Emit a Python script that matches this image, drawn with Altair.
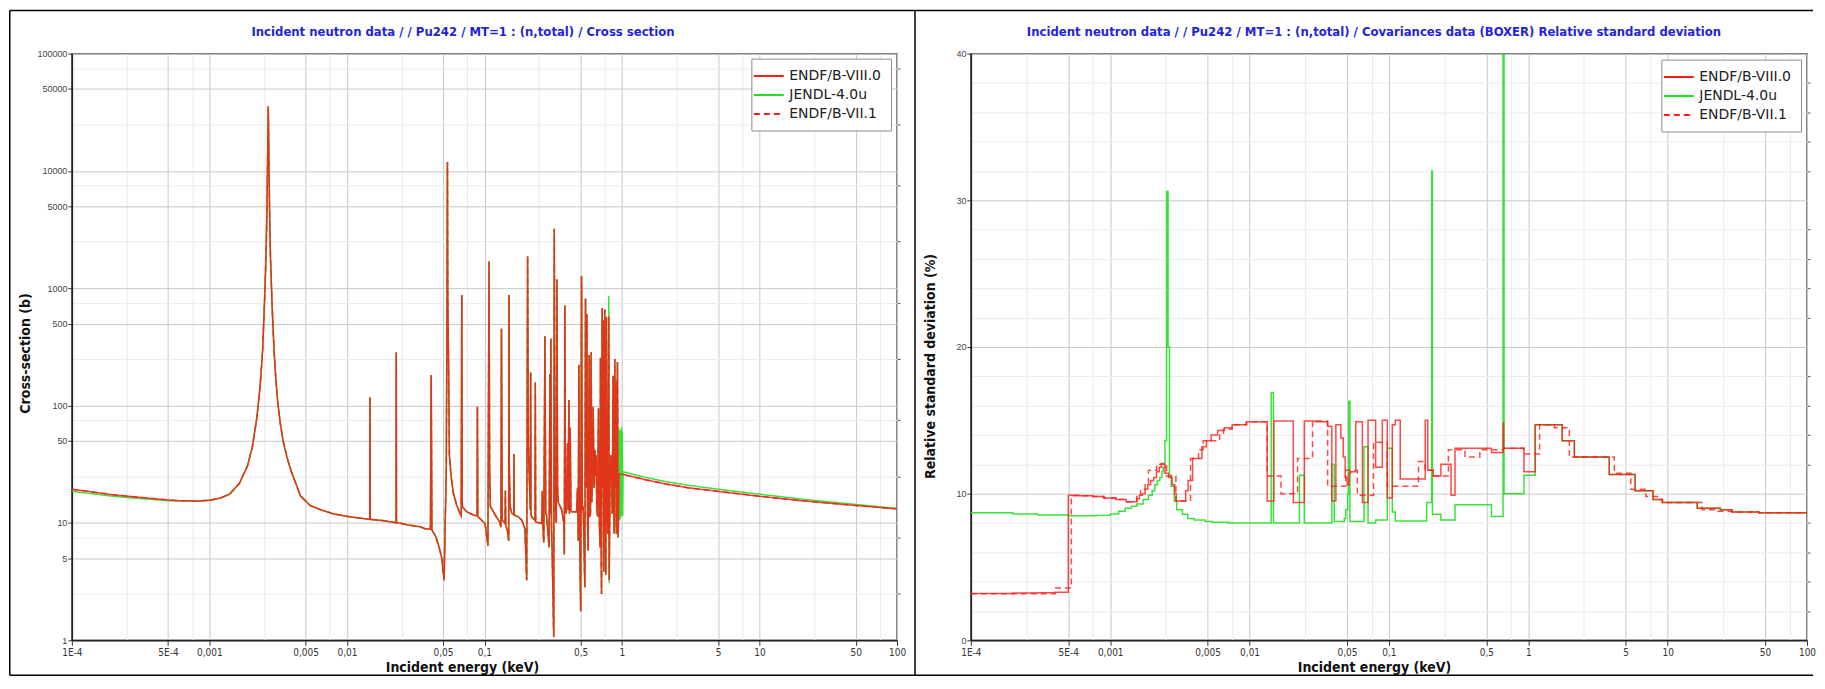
import altair as alt
import pandas as pd

# ------------------------------------------------------------------ texts
SERIES = ["ENDF/B-VIII.0", "JENDL-4.0u", "ENDF/B-VII.1"]
COLORS = ["#ff1a1a", "#22e022", "#ff1a1a"]
DASHES = [[1, 0], [1, 0], [6, 4]]

LEFT_TITLE = "Incident neutron data / / Pu242 / MT=1 : (n,total) / Cross section"
RIGHT_TITLE = ("Incident neutron data / / Pu242 / MT=1 : (n,total) / "
               "Covariances data (BOXER) Relative standard deviation")
X_TITLE = "Incident energy (keV)"
LEFT_Y_TITLE = "Cross-section (b)"
RIGHT_Y_TITLE = "Relative standard deviation (%)"

# ------------------------------------------------------------------ ticks
x_major = [0.0001, 0.0005, 0.001, 0.005, 0.01, 0.05, 0.1, 0.5, 1, 5, 10, 50, 100]
x_major_labels = ["1E-4", "5E-4", "0,001", "0,005", "0,01", "0,05", "0,1", "0,5",
                  "1", "5", "10", "50", "100"]
x_minor = [0.00025, 0.00075, 0.0025, 0.0075, 0.025, 0.075, 0.25, 0.75, 2.5, 7.5, 25, 75]
y_left_major = [1, 5, 10, 50, 100, 500, 1000, 5000, 10000, 50000, 100000]
y_left_minor = [2.5, 7.5, 25, 75, 250, 750, 2500, 7500, 25000, 75000]
y_right_major = [0, 10, 20, 30, 40]
y_right_minor = [2, 4, 6, 8, 12, 14, 16, 18, 22, 24, 26, 28, 32, 34, 36, 38]

# ------------------------------------------------------------------ left panel data (keV, barns)
low_E = [1.0e-4, 1.5e-4, 2.0e-4, 3.0e-4, 4.0e-4, 5.0e-4, 6.0e-4, 8.0e-4, 1.0e-3, 1.2e-3,
         1.4e-3, 1.65e-3, 1.89e-3, 2.05e-3, 2.21e-3, 2.30e-3, 2.37e-3, 2.44e-3, 2.52e-3, 2.58e-3,
         2.62e-3, 2.65e-3, 2.68e-3, 2.71e-3, 2.74e-3, 2.78e-3, 2.86e-3, 2.95e-3, 3.04e-3, 3.14e-3,
         3.28e-3, 3.46e-3, 3.70e-3, 3.96e-3, 4.6e-3, 5.4e-3, 6.4e-3, 8.0e-3, 1.0e-2, 1.40e-2,
         1.465e-2, 1.472e-2, 1.479e-2, 1.80e-2, 2.22e-2, 2.278e-2, 2.285e-2, 2.292e-2, 2.80e-2, 3.40e-2]
low_viii = [19.4, 18.2, 17.4, 16.6, 16.1, 15.7, 15.5, 15.4, 15.6, 16.3,
            17.6, 21.7, 30.5, 44, 78, 120, 180, 300, 800, 1850,
            4500, 12000, 35500, 12000, 4500, 1850, 700, 300, 170, 107,
            70, 48, 35, 27, 17.0, 14.1, 13.0, 11.95, 11.4, 10.8,
            10.75, 118, 10.75, 10.5, 10.1, 10.05, 284, 10.1, 9.6, 9.3]
low_jendl = [18.6, 17.6, 16.9, 16.2, 15.8, 15.5, 15.4, 15.35, 15.6, 16.3,
             17.6, 21.7, 30.5, 44, 78, 120, 180, 300, 800, 1850,
             4500, 12000, 35500, 12000, 4500, 1850, 700, 300, 170, 107,
             70, 48, 35, 27, 17.0, 14.1, 13.0, 11.95, 11.4, 10.8,
             10.75, 118, 10.75, 10.5, 10.1, 10.05, 284, 10.1, 9.6, 9.3]

res_E = [0.0370, 0.0405, 0.0410, 0.0415, 0.0440, 0.0465, 0.0490, 0.0509, 0.0528, 0.0535,
         0.0538, 0.0541, 0.0547, 0.0556, 0.0572, 0.0594, 0.0627, 0.0662, 0.0678, 0.0684,
         0.0690, 0.0740, 0.0830, 0.0884, 0.0889, 0.0894, 0.0950, 0.1010, 0.1060, 0.1080,
         0.1090, 0.1105, 0.1160, 0.1220, 0.1290, 0.1318, 0.1330, 0.1345, 0.1412, 0.1420,
         0.1428, 0.1476, 0.1500, 0.1508, 0.1516, 0.1535, 0.1580, 0.1635, 0.1640, 0.1645,
         0.1760, 0.1865, 0.1970, 0.2028, 0.2060, 0.2085, 0.2108, 0.2155, 0.2167, 0.2178,
         0.2203, 0.2330, 0.2343, 0.2356, 0.2605, 0.2635, 0.2660, 0.2700, 0.2753, 0.2790,
         0.2830, 0.2950, 0.2993, 0.3010, 0.3040, 0.3070, 0.3110, 0.3190, 0.3220, 0.3250,
         0.3290, 0.3330, 0.3365, 0.3400, 0.3440, 0.3640, 0.3780, 0.3810, 0.3846, 0.3880,
         0.3935, 0.4020, 0.4060, 0.4110, 0.4150, 0.4205, 0.4250, 0.4300, 0.4676, 0.4754,
         0.4810, 0.4860, 0.4930, 0.5010, 0.5080, 0.5150, 0.5225, 0.5370, 0.5430, 0.5500,
         0.5560, 0.5620, 0.5680, 0.5780, 0.5840, 0.5900, 0.5970, 0.6030, 0.6110, 0.6180,
         0.6260, 0.6350, 0.6420, 0.6490, 0.6560, 0.6640, 0.6750, 0.6850, 0.6930, 0.6980,
         0.7040, 0.7100, 0.7180, 0.7240, 0.7300, 0.7380, 0.7500, 0.7560, 0.7630, 0.7710,
         0.7800, 0.7890]
res_v = [8.95, 8.85, 182, 8.7, 7.8, 6.4, 5.0, 3.25, 30, 900,
         11900, 900, 290, 38, 25, 18, 14.3, 12.1, 11.5, 877,
         13.8, 12.5, 11.7, 11.5, 98, 11.4, 10.6, 9.9, 6.4, 1700,
         30, 13.8, 12.5, 11.3, 10.2, 9.25, 453, 10.6, 9.9, 18.8,
         9.6, 8.4, 7.07, 877, 30, 13.9, 12.1, 11.9, 38.8, 11.7,
         11.3, 10.6, 8.95, 3.25, 1880, 45, 30, 13, 192, 12,
         11.3, 10.5, 158, 10.2, 9.9, 18.8, 9.5, 6.8, 390, 12,
         11.7, 6.2, 185, 12, 372, 10, 5.4, 1.07, 3220, 40,
         13, 10, 1190, 20, 15, 13, 10, 5.4, 716, 14,
         12, 48, 13, 112, 12, 65, 13, 12.5, 12.5, 20,
         7.07, 223, 8, 1.77, 1270, 13, 13.9, 2.84, 820, 20,
         600, 10, 5.8, 270, 11.3, 12, 285, 15, 30, 98,
         20, 42, 25, 38, 14, 11.3, 95, 10, 6.2, 256,
         10, 2.48, 680, 20, 535, 3.85, 660, 15, 3.6, 570,
         13, 8.1]

viii_tail_E = [0.8020, 0.8070, 0.8180, 0.8300, 0.8390, 0.8500, 0.8620, 0.8700, 0.8770, 0.8870,
               0.8950, 0.9020, 0.9070, 0.9120, 0.9270, 0.9380]
viii_tail_v = [575, 3.25, 20, 38, 30, 12, 180, 14, 8.1, 250,
               20, 163, 10, 8.1, 235, 7.55]
jendl_tail_E = [0.8020, 0.8070, 0.8180, 0.8300, 0.8390, 0.8500, 0.8620, 0.8700, 0.8770, 0.8870,
                0.8950, 0.9020, 0.9070, 0.9120, 0.9270, 0.9380, 0.9450, 0.9500, 0.9560, 0.9620,
                0.9680, 0.9740, 0.9800, 0.9860, 0.9920, 0.9980, 1.0050, 1.0120]
jendl_tail_v = [860, 3.1, 20, 38, 30, 12, 180, 14, 8.1, 250,
                20, 163, 10, 8.1, 235, 7.5, 65, 11, 60, 10.5,
                62, 11, 58, 12, 65, 11.5, 60, 11.5]

viii_high_E = [0.953, 1.2, 1.5, 2.05, 3.0, 5.0, 10.0, 20.0, 50.0, 100.0]
viii_high_v = [26.3, 24.8, 23.3, 21.6, 20.0, 18.6, 16.9, 15.5, 14.1, 13.2]
jendl_high_E = [1.019, 1.2, 1.5, 2.05, 3.0, 5.0, 10.0, 20.0, 50.0, 100.0]
jendl_high_v = [27.3, 26.0, 24.4, 22.6, 21.0, 19.4, 17.6, 16.0, 14.4, 13.3]

# ------------------------------------------------------------------ right panel data (keV, %)
r_viii_E = [1.0e-4, 2.0e-4, 3.0e-4, 4.0e-4, 5.0e-4, 6.0e-4, 7.5e-4, 9.0e-4, 1.1e-3, 1.3e-3,
            1.55e-3, 1.62e-3, 1.70e-3, 1.78e-3, 1.86e-3, 1.95e-3, 2.05e-3, 2.15e-3, 2.25e-3, 2.33e-3,
            2.47e-3, 2.62e-3, 2.78e-3, 2.90e-3, 2.98e-3, 3.48e-3, 3.62e-3, 3.90e-3, 4.55e-3, 4.90e-3,
            5.30e-3, 5.90e-3, 6.60e-3, 7.50e-3, 9.5e-3, 0.01337, 0.01493, 0.0206, 0.0247, 0.0300,
            0.0363, 0.0389, 0.0416, 0.0452, 0.0470, 0.0485, 0.0501, 0.0518, 0.0531, 0.0578,
            0.0645, 0.0708, 0.0803, 0.0896, 0.0973, 0.1057, 0.111, 0.1205, 0.182, 0.190,
            0.208, 0.236, 0.279, 0.298, 0.544, 0.659, 0.665, 0.931, 1.12, 1.75,
            2.14, 3.81, 5.84, 7.86, 9.16, 16.3, 23.9, 29.0, 45.0, 100.0]
r_viii_v = [3.20, 3.22, 3.25, 3.28, 9.9, 9.85, 9.8, 9.7, 9.6, 9.45,
            9.65, 9.9, 10.0, 10.3, 10.6, 10.9, 11.1, 11.5, 11.8, 12.0,
            11.4, 11.1, 10.6, 10.0, 9.5, 10.2, 10.9, 12.4, 13.2, 13.6,
            14.0, 14.3, 14.5, 14.7, 14.9, 9.5, 14.95, 9.4, 14.95, 14.9,
            14.6, 9.5, 14.7, 13.8, 12.5, 11.1, 10.6, 11.4, 11.5, 14.9,
            9.4, 15.0, 11.8, 15.0, 9.7, 14.7, 15.0, 11.0, 15.0, 11.6,
            11.2, 12.0, 9.9, 13.1, 12.8, 14.8, 13.1, 11.5, 14.7, 13.6,
            12.5, 11.3, 10.2, 9.6, 9.4, 9.0, 8.9, 8.75, 8.7, 8.65]

r_vii_E = [1.0e-4, 4.05e-4, 5.26e-4, 6.0e-4, 7.5e-4, 9.0e-4, 1.1e-3, 1.3e-3, 1.55e-3, 1.65e-3,
           1.78e-3, 1.88e-3, 2.15e-3, 2.32e-3, 2.54e-3, 2.96e-3, 3.77e-3, 4.3e-3, 4.64e-3, 6.1e-3,
           6.5e-3, 7.5e-3, 9.5e-3, 0.01337, 0.0168, 0.0221, 0.0283, 0.0363, 0.049, 0.0593,
           0.0775, 0.0973, 0.163, 0.182, 0.208, 0.267, 0.351, 0.449, 0.659, 0.931,
           1.205, 1.54, 1.97, 4.14, 5.44, 6.97, 8.44, 9.16, 17.7, 22.6,
           29.0, 45.0, 100.0]
r_vii_v = [3.18, 3.57, 9.85, 9.85, 9.8, 9.7, 9.6, 9.45, 9.8, 10.3,
           10.6, 11.6, 12.0, 12.05, 11.2, 9.5, 12.4, 13.0, 13.6, 14.0,
           14.4, 14.7, 14.9, 11.2, 10.0, 12.4, 14.95, 10.5, 11.6, 9.9,
           13.5, 10.5, 12.2, 11.6, 11.2, 13.0, 12.5, 13.0, 13.1, 12.7,
           14.7, 14.5, 12.5, 11.4, 10.3, 9.8, 9.6, 9.4, 8.9, 8.8,
           8.75, 8.7, 8.65]

r_jendl_E = [1.0e-4, 2.0e-4, 3.0e-4, 5.0e-4, 8.0e-4, 1.0e-3, 1.15e-3, 1.28e-3, 1.42e-3, 1.55e-3,
             1.72e-3, 1.88e-3, 2.0e-3, 2.09e-3, 2.18e-3, 2.27e-3, 2.35e-3, 2.40e-3, 2.47e-3, 2.54e-3,
             2.60e-3, 2.66e-3, 2.74e-3, 2.88e-3, 3.0e-3, 3.3e-3, 3.6e-3, 4.0e-3, 4.8e-3, 5.4e-3,
             7.0e-3, 0.01429, 0.01484, 0.0228, 0.0247, 0.0389, 0.0405, 0.0478, 0.0490, 0.0506,
             0.0515, 0.0525, 0.0662, 0.0708, 0.0803, 0.0973, 0.1057, 0.111, 0.1866, 0.2028,
             0.2051, 0.236, 0.298, 0.544, 0.659, 0.670, 0.931, 1.12, 1.75, 2.14,
             3.81, 5.84, 7.86, 9.16, 16.3, 23.9, 29.0, 45.0, 100.0]
r_jendl_v = [8.7, 8.62, 8.55, 8.5, 8.52, 8.62, 8.8, 9.0, 9.15, 9.3,
             9.6, 9.9, 10.2, 10.6, 10.9, 11.1, 11.5, 11.8, 13.6, 30.6,
             20.0, 11.25, 10.5, 9.5, 8.9, 8.6, 8.3, 8.2, 8.1, 8.05,
             8.0, 16.9, 8.0, 11.25, 8.0, 12.0, 8.1, 8.3, 8.9, 10.0,
             16.3, 8.1, 13.2, 8.0, 8.2, 13.1, 8.75, 8.14, 9.4, 32.0,
             8.6, 8.2, 9.25, 8.45, 40.0, 10.0, 11.25, 14.7, 13.6, 12.5,
             11.3, 10.2, 9.6, 9.4, 9.0, 8.9, 8.75, 8.7, 8.65]


def table(parts):
    recs = []
    for name, E, V in parts:
        for k, (e, v) in enumerate(zip(E, V)):
            recs.append({"E": e, "v": v, "series": name, "k": k})
    return pd.DataFrame(recs)


left_viii_E = low_E + res_E + viii_tail_E + viii_high_E
left_viii_v = low_viii + res_v + viii_tail_v + viii_high_v
left_jendl_E = low_E + res_E + jendl_tail_E + jendl_high_E
left_jendl_v = low_jendl + res_v + jendl_tail_v + jendl_high_v

left_df = table([(SERIES[0], left_viii_E, left_viii_v),
                 (SERIES[1], left_jendl_E, left_jendl_v),
                 (SERIES[2], left_viii_E, left_viii_v)])
right_df = table([(SERIES[0], r_viii_E, r_viii_v),
                  (SERIES[1], r_jendl_E, r_jendl_v),
                  (SERIES[2], r_vii_E, r_vii_v)])

# ------------------------------------------------------------------ style
NARROW = "Liberation Sans Narrow, Arial Narrow, DejaVu Sans Condensed, Liberation Sans, sans-serif"
SANS = "Liberation Sans, Arial, sans-serif"
BLUE = "#2424d6"
GRID_MAJOR = "#c8c8c8"
GRID_MINOR = "#ebebeb"

x_label_expr = " : ".join(f"datum.value == {v} ? '{l}'"
                          for v, l in zip(x_major, x_major_labels)) + " : ''"


def x_axis_main(title_x):
    return alt.Axis(orient="bottom", values=x_major, labelExpr=x_label_expr,
                    labelFont=NARROW, labelFontSize=10, labelColor="#333",
                    labelPadding=2, labelFlush=False, labelOverlap=False,
                    tickSize=5, tickColor="#333", domainColor="#222", domainWidth=1.5,
                    grid=True, gridColor=GRID_MAJOR,
                    title=X_TITLE, titleFont=NARROW, titleFontSize=14,
                    titleFontWeight="bold", titleColor="#111",
                    titleX=title_x, titleY=31, titleAlign="center",
                    titleBaseline="alphabetic")


def y_axis_main(values, title, title_x, title_y):
    return alt.Axis(orient="left", values=values, format="d",
                    labelFont=SANS, labelFontSize=9, labelColor="#444",
                    labelPadding=1, labelOverlap=False,
                    tickSize=4, tickColor="#333", domainColor="#222", domainWidth=1.5,
                    grid=True, gridColor=GRID_MAJOR,
                    title=title, titleFont=NARROW, titleFontSize=14,
                    titleFontWeight="bold", titleColor="#111",
                    titleX=title_x, titleY=title_y, titleAngle=270, titleAlign="center",
                    titleBaseline="alphabetic")


x_axis_minor = alt.Axis(orient="top", values=x_minor, grid=True, gridColor=GRID_MINOR,
                        ticks=False, labels=False, domain=False, title=None)


def y_axis_minor(values):
    return alt.Axis(orient="right", values=values, grid=True, gridColor=GRID_MINOR,
                    ticks=True, tickSize=3, tickColor="#555", labels=False,
                    domain=False, title=None)


# a wide horizontal line as legend symbol (twice the symbol's nominal size)
LEGEND_SYMBOL = "M-2,0L2,0"


def legend(lx, ly):
    return alt.Legend(title=None, orient="none", legendX=lx, legendY=ly,
                      fillColor="white", strokeColor="#8c8c8c", padding=9,
                      labelFont="DejaVu Sans", labelFontSize=14, labelColor="#222",
                      symbolType=LEGEND_SYMBOL, symbolSize=225, symbolStrokeWidth=2,
                      symbolOpacity=1, rowPadding=3, labelOffset=12, labelLimit=300)


def panel(df, x_scale, y_scale, y_major_vals, y_minor_vals, y_title, y_title_x, y_title_y,
          x_title_x, leg, interp, draw_order, title_text, title_x, width, extra=()):
    base = alt.Chart(df)
    layers = [base.mark_line(strokeOpacity=0).encode(
        x=alt.X("E:Q", scale=x_scale, axis=x_axis_minor),
        y=alt.Y("v:Q", scale=y_scale, axis=y_axis_minor(y_minor_vals)))]
    color = alt.Color("series:N", scale=alt.Scale(domain=SERIES, range=COLORS), legend=leg)
    dash = alt.StrokeDash("series:N", scale=alt.Scale(domain=SERIES, range=DASHES), legend=leg)
    for i, (name, op) in enumerate(draw_order):
        xa = x_axis_main(x_title_x) if i == 0 else None
        ya = y_axis_main(y_major_vals, y_title, y_title_x, y_title_y) if i == 0 else None
        layers.append(
            base.transform_filter(alt.datum.series == name)
            .mark_line(interpolate=interp, strokeWidth=1.5, opacity=op, clip=True)
            .encode(x=alt.X("E:Q", scale=x_scale, axis=xa),
                    y=alt.Y("v:Q", scale=y_scale, axis=ya),
                    color=color, strokeDash=dash, order=alt.Order("k:Q")))
    title_layer = alt.Chart(pd.DataFrame({"t": [title_text]})).mark_text(
        font=NARROW, fontSize=13, fontWeight="bold", color=BLUE,
        align="center", baseline="alphabetic").encode(
        x=alt.value(title_x), y=alt.value(-17.5), text="t:N")
    return alt.layer(*layers, title_layer, *extra).properties(width=width, height=588)


# outer frame lines (page decoration), relative to the left plot area
one = pd.DataFrame({"d": [0]})
FRAME_TOP, FRAME_BOTTOM, FRAME_LEFT, FRAME_RIGHT, DIVIDER = -43.25, 623, -62.25, 1745, 845
frame = [
    alt.Chart(one).mark_rule(color="black", strokeWidth=1.5).encode(
        x=alt.value(FRAME_LEFT), x2=alt.value(FRAME_RIGHT), y=alt.value(FRAME_TOP)),
    alt.Chart(one).mark_rule(color="black", strokeWidth=1.5).encode(
        x=alt.value(FRAME_LEFT), x2=alt.value(FRAME_RIGHT), y=alt.value(FRAME_BOTTOM)),
    alt.Chart(one).mark_rule(color="black", strokeWidth=1.5).encode(
        x=alt.value(FRAME_LEFT), y=alt.value(FRAME_TOP), y2=alt.value(FRAME_BOTTOM)),
    alt.Chart(one).mark_rule(color="black", strokeWidth=1.5).encode(
        x=alt.value(DIVIDER), y=alt.value(FRAME_TOP), y2=alt.value(FRAME_BOTTOM)),
]

x_scale = alt.Scale(type="log", domain=[1e-4, 100], nice=False)

left = panel(left_df, x_scale, alt.Scale(type="log", domain=[1, 100000], nice=False),
             y_left_major, y_left_minor, LEFT_Y_TITLE, -42, 300, 391, legend(681, 5),
             "linear", [(SERIES[2], 0.9), (SERIES[1], 0.9), (SERIES[0], 0.85)],
             LEFT_TITLE, 392, 827, extra=frame)

right = panel(right_df, x_scale, alt.Scale(type="linear", domain=[0, 40], nice=False),
              y_right_major, y_right_minor, RIGHT_Y_TITLE, -36, 313, 404, legend(692, 6),
              "step-after", [(SERIES[1], 0.9), (SERIES[0], 0.8), (SERIES[2], 0.8)],
              RIGHT_TITLE, 404, 838)

chart = alt.hconcat(left, right, spacing=74, bounds="flush", padding=0,
                    background="white").resolve_scale(
    color="independent", strokeDash="independent").configure_view(
    stroke="#555", strokeWidth=1.5)

chart.save("out.html", embed_options={"renderer": "svg", "actions": False})
